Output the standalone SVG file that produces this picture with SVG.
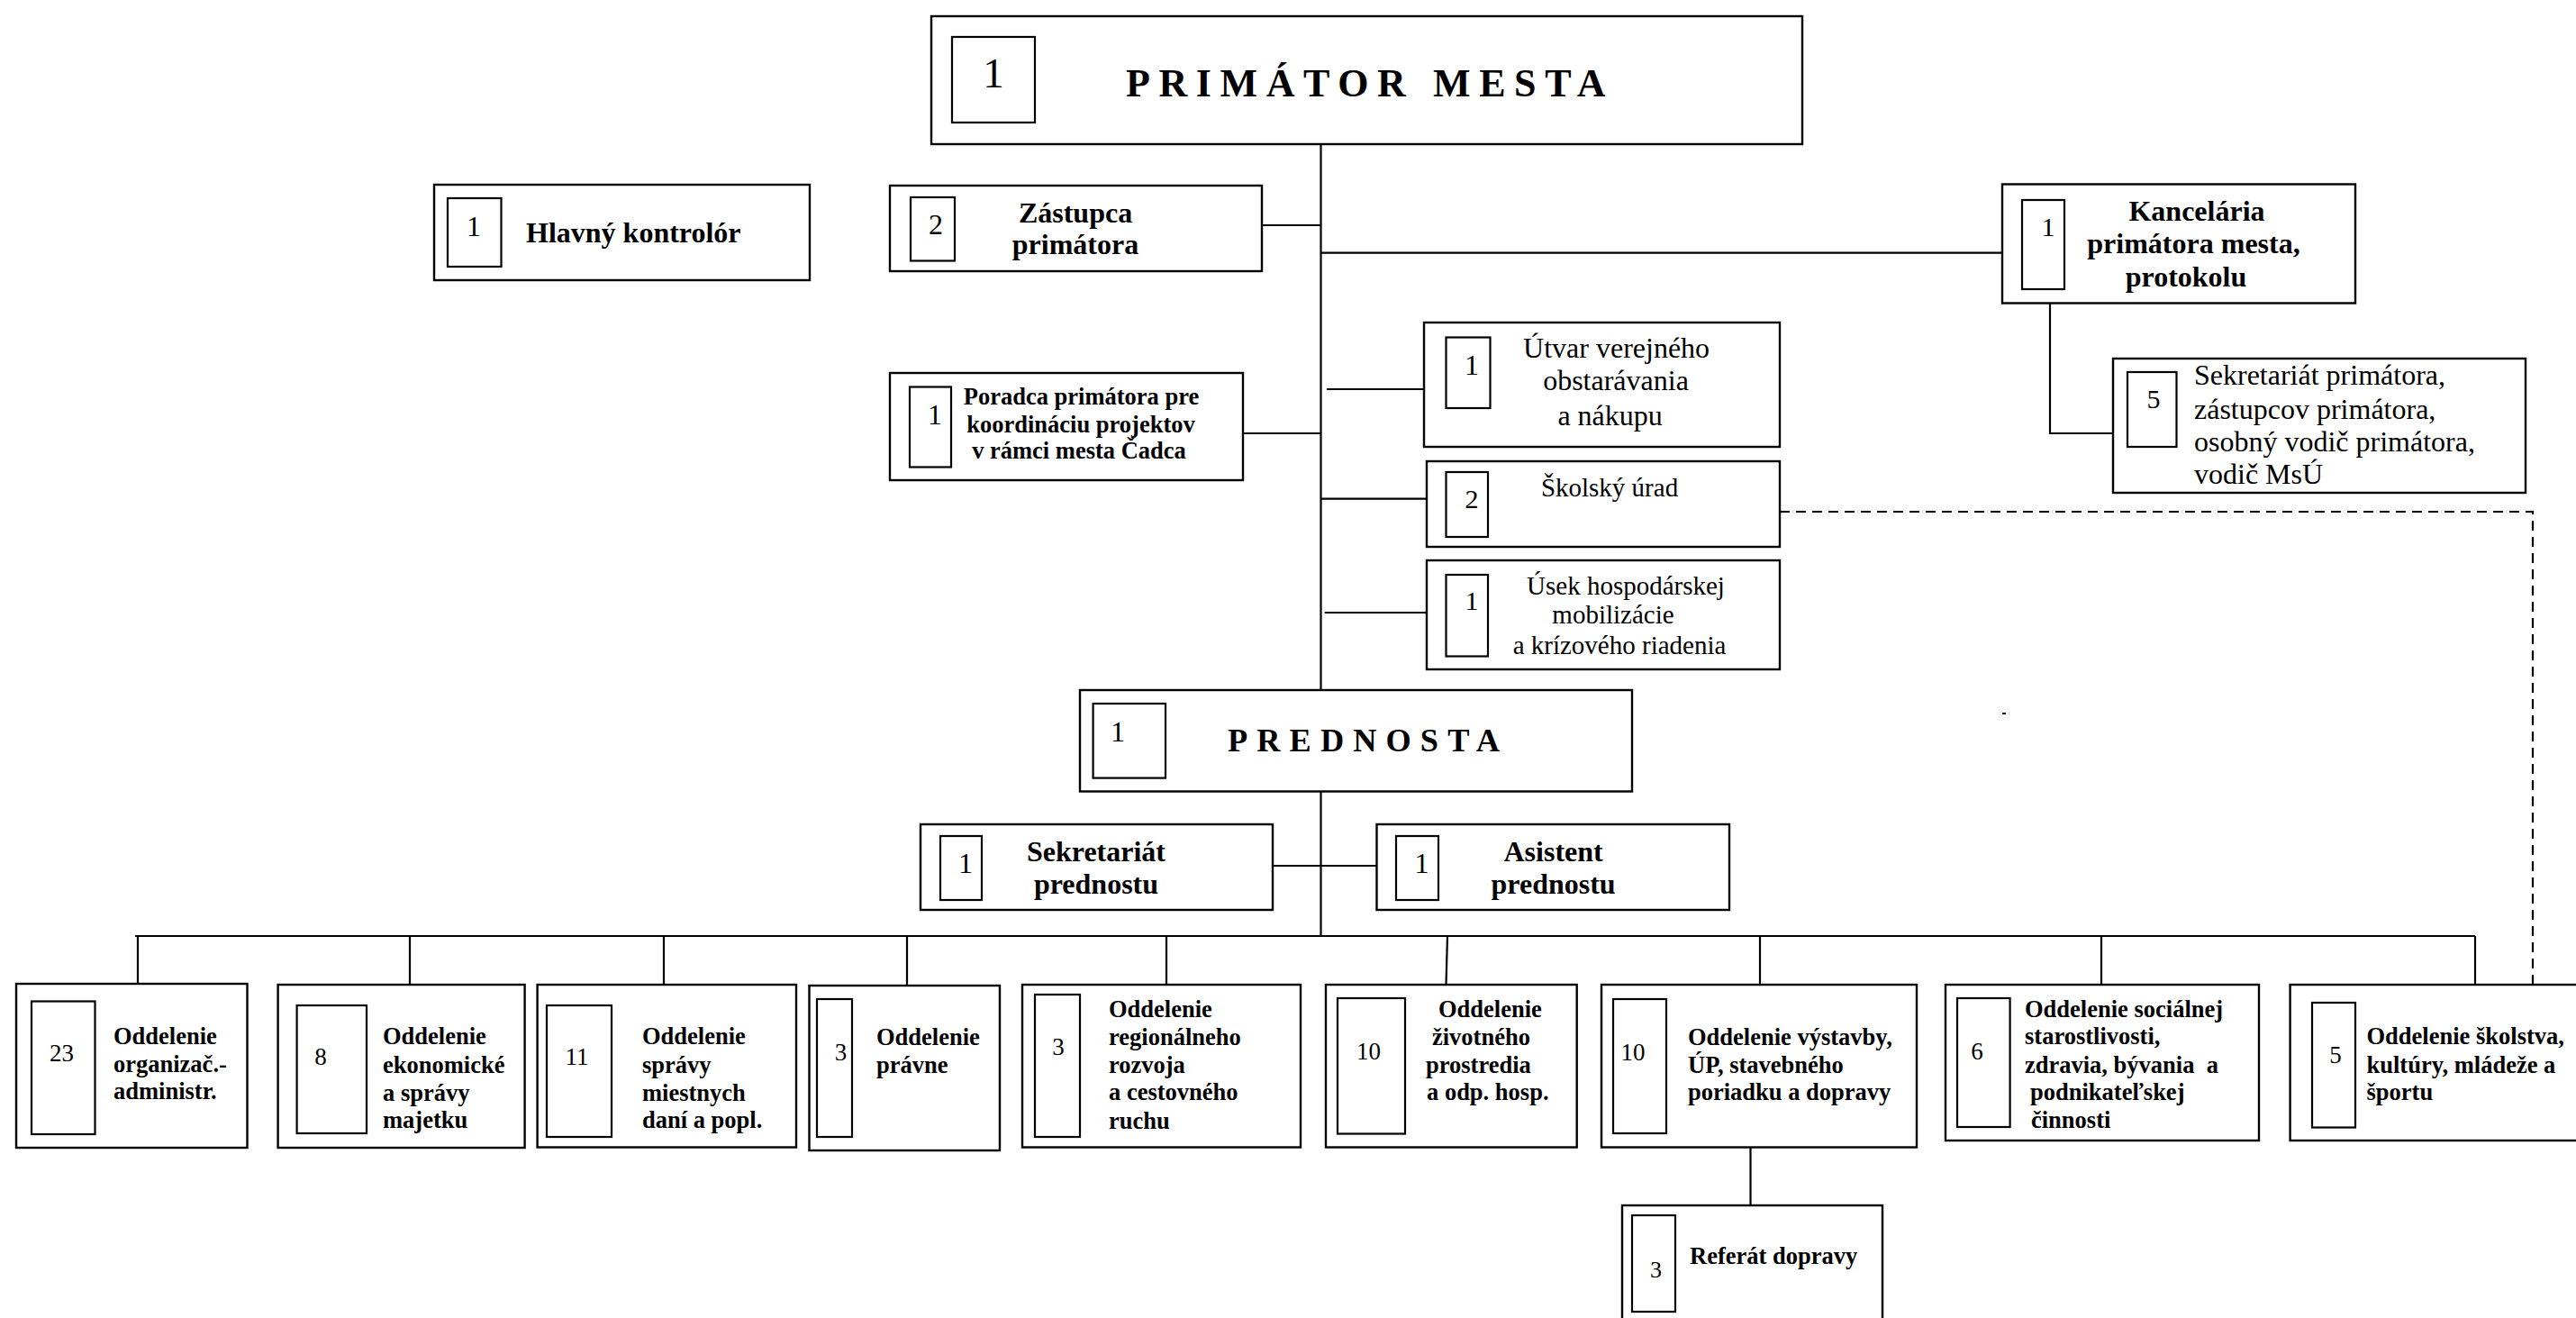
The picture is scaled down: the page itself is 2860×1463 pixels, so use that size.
<svg xmlns="http://www.w3.org/2000/svg" width="2860" height="1463" viewBox="0 0 2860 1463">
<style>
.bx{fill:#fff;stroke:#000;stroke-width:2.4}
.in{fill:#fff;stroke:#000;stroke-width:2.2}
.c{fill:none;stroke:#000;stroke-width:2.2}
.d{fill:none;stroke:#000;stroke-width:2.2;stroke-dasharray:11 7}
text{font-family:"Liberation Serif","Times New Roman",serif;fill:#000}
.n{font-size:32px;text-anchor:middle}
.ns{font-size:27px;text-anchor:middle}
.b{font-size:32px;font-weight:bold}
.bs{font-size:26.5px;font-weight:bold}
.r{font-size:32px}
.r29{font-size:29px}
.m{text-anchor:middle}
</style>
<rect width="2860" height="1463" fill="#fff"/>
<g id="connectors">
<path class="c" d="M1466.5,160V766M1466.5,878.5V1039"/>
<path class="c" d="M1401,250H1466.5M1466.5,280.6H2223M1380,481H1466.5M1473,432H1581M1466.5,553.7H1584M1470.6,680H1584"/>
<path class="c" d="M2276,336.6V481H2346"/>
<path class="c" d="M1413,961H1528.5"/>
<path class="c" d="M150,1039H2748"/>
<path class="c" d="M153,1039V1092M455,1039V1093M737,1039V1093M1007,1039V1094M1295,1039V1093M1607,1039L1605.5,1093M1954,1039V1093M2333,1039V1093M2748,1039V1093"/>
<path class="c" d="M1943.5,1273.5V1338"/>
<path class="d" d="M1976,568H2812V1093"/>
</g>
<g id="primator">
<rect class="bx" x="1034" y="18" width="967" height="142"/>
<rect class="in" x="1057" y="41" width="92" height="95"/>
<text x="1103" y="97" style="font-size:47px;text-anchor:middle">1</text>
<text x="1250" y="106.5" style="font-size:44px;font-weight:bold;letter-spacing:9.6px">PRIMÁTOR MESTA</text>
</g>
<g id="hlavny-kontrolor">
<rect class="bx" x="482" y="205" width="417" height="106"/>
<rect class="in" x="497" y="220" width="59.5" height="76"/>
<text class="n" x="526" y="262">1</text>
<text class="b" x="584" y="269">Hlavný kontrolór</text>
</g>
<g id="zastupca">
<rect class="bx" x="988" y="206" width="413" height="95"/>
<rect class="in" x="1011" y="219" width="49" height="70.5"/>
<text class="n" x="1039" y="260">2</text>
<text class="b m" x="1194" y="246.5">Zástupca</text>
<text class="b m" x="1194" y="282">primátora</text>
</g>
<g id="poradca">
<rect class="bx" x="988" y="414" width="392" height="119"/>
<rect class="in" x="1010" y="429.5" width="46" height="89"/>
<text class="n" x="1038" y="470.5">1</text>
<text class="bs m" x="1200.5" y="449">Poradca primátora pre</text>
<text class="bs m" x="1200" y="479.5">koordináciu projektov</text>
<text class="bs m" x="1198" y="509">v rámci mesta Čadca</text>
</g>
<g id="kancelaria">
<rect class="bx" x="2223" y="204.5" width="392" height="132"/>
<rect class="in" x="2245" y="222" width="47" height="99"/>
<text class="n" x="2274" y="262" style="font-size:30px">1</text>
<text class="b m" x="2439" y="245">Kancelária</text>
<text class="b m" x="2435.5" y="281">primátora mesta,</text>
<text class="b m" x="2427" y="317.5">protokolu</text>
</g>
<g id="sekretariat-primatora">
<rect class="bx" x="2346" y="398" width="458" height="149"/>
<rect class="in" x="2362" y="413" width="54.5" height="83"/>
<text class="n" x="2391" y="453" style="font-size:30px">5</text>
<text class="r" x="2436" y="427">Sekretariát primátora,</text>
<text class="r" x="2436" y="464.5">zástupcov primátora,</text>
<text class="r" x="2436" y="501">osobný vodič primátora,</text>
<text class="r" x="2436" y="537">vodič MsÚ</text>
</g>
<g id="utvar">
<rect class="bx" x="1581" y="358" width="395" height="138"/>
<rect class="in" x="1605.5" y="374.5" width="49" height="78.5"/>
<text class="n" x="1634" y="415.5">1</text>
<text class="r m" x="1794.6" y="397">Útvar verejného</text>
<text class="r m" x="1794" y="433">obstarávania</text>
<text class="r m" x="1787.6" y="471.5">a nákupu</text>
</g>
<g id="skolsky-urad">
<rect class="bx" x="1584" y="512" width="392" height="95"/>
<rect class="in" x="1605.5" y="524" width="46.5" height="72"/>
<text class="n" x="1634" y="564" style="font-size:30px">2</text>
<text class="r29 m" x="1787" y="551">Školský úrad</text>
</g>
<g id="usek">
<rect class="bx" x="1584" y="622" width="392" height="121"/>
<rect class="in" x="1605.5" y="638" width="46.5" height="90.5"/>
<text class="n" x="1634" y="677" style="font-size:30px">1</text>
<text class="r29 m" x="1805" y="660">Úsek hospodárskej</text>
<text class="r29 m" x="1791" y="692">mobilizácie</text>
<text class="r29 m" x="1798" y="726">a krízového riadenia</text>
</g>
<g id="prednosta">
<rect class="bx" x="1199" y="766" width="613" height="112.5"/>
<rect class="in" x="1213.6" y="781" width="80.4" height="82.6"/>
<text class="n" x="1241" y="822.5">1</text>
<text x="1363" y="833.7" style="font-size:36.3px;font-weight:bold;letter-spacing:10.1px">PREDNOSTA</text>
</g>
<g id="sekretariat-prednostu">
<rect class="bx" x="1022" y="915" width="391" height="95"/>
<rect class="in" x="1044" y="928" width="46" height="71"/>
<text class="n" x="1072" y="969">1</text>
<text class="b m" x="1217" y="956">Sekretariát</text>
<text class="b m" x="1217" y="991.5">prednostu</text>
</g>
<g id="asistent">
<rect class="bx" x="1528.5" y="915" width="391.5" height="95"/>
<rect class="in" x="1550" y="928" width="47" height="71"/>
<text class="n" x="1578.5" y="969">1</text>
<text class="b m" x="1724.6" y="956">Asistent</text>
<text class="b m" x="1724.6" y="991.5">prednostu</text>
</g>
<g id="odd-organizacne">
<rect class="bx" x="18" y="1092" width="256.5" height="182"/>
<rect class="in" x="35" y="1111.5" width="70.5" height="147.5"/>
<text class="ns" x="68.6" y="1178">23</text>
<text class="bs" x="126" y="1159">Oddelenie</text>
<text class="bs" x="126" y="1190">organizač.-</text>
<text class="bs" x="126" y="1220">administr.</text>
</g>
<g id="odd-ekonomicke">
<rect class="bx" x="308.6" y="1093" width="274" height="181"/>
<rect class="in" x="329.6" y="1116" width="77.4" height="142"/>
<text class="ns" x="356" y="1182">8</text>
<text class="bs" x="425" y="1159">Oddelenie</text>
<text class="bs" x="425" y="1191">ekonomické</text>
<text class="bs" x="425" y="1222">a správy</text>
<text class="bs" x="425" y="1251.5">majetku</text>
</g>
<g id="odd-dani">
<rect class="bx" x="596.6" y="1093" width="287.4" height="180.5"/>
<rect class="in" x="607" y="1116" width="72" height="146"/>
<text class="ns" x="640.5" y="1182">11</text>
<text class="bs" x="713" y="1159">Oddelenie</text>
<text class="bs" x="713" y="1191">správy</text>
<text class="bs" x="713" y="1222">miestnych</text>
<text class="bs" x="713" y="1252">daní a popl.</text>
</g>
<g id="odd-pravne">
<rect class="bx" x="898.5" y="1094" width="211.5" height="183"/>
<rect class="in" x="907" y="1109" width="39" height="153"/>
<text class="ns" x="933.5" y="1177">3</text>
<text class="bs" x="973" y="1159.6">Oddelenie</text>
<text class="bs" x="973" y="1191">právne</text>
</g>
<g id="odd-regionalne">
<rect class="bx" x="1135" y="1093" width="309" height="180.5"/>
<rect class="in" x="1149" y="1104" width="50" height="158"/>
<text class="ns" x="1175" y="1171">3</text>
<text class="bs" x="1231" y="1129">Oddelenie</text>
<text class="bs" x="1231" y="1159.6">regionálneho</text>
<text class="bs" x="1231" y="1191">rozvoja</text>
<text class="bs" x="1231" y="1221">a cestovného</text>
<text class="bs" x="1231" y="1252.5">ruchu</text>
</g>
<g id="odd-zivotne">
<rect class="bx" x="1472" y="1093" width="278.7" height="180.5"/>
<rect class="in" x="1485" y="1108" width="75" height="150.5"/>
<text class="ns" x="1519.6" y="1176">10</text>
<text class="bs" x="1597" y="1129">Oddelenie</text>
<text class="bs" x="1590" y="1159.6">životného</text>
<text class="bs" x="1583" y="1191">prostredia</text>
<text class="bs" x="1584" y="1221">a odp. hosp.</text>
</g>
<g id="odd-vystavby">
<rect class="bx" x="1778" y="1093" width="350" height="180.5"/>
<rect class="in" x="1791" y="1109" width="59" height="149"/>
<text class="ns" x="1813" y="1177">10</text>
<text class="bs" x="1874" y="1159.6">Oddelenie výstavby,</text>
<text class="bs" x="1874" y="1191">ÚP, stavebného</text>
<text class="bs" x="1874" y="1221">poriadku a dopravy</text>
</g>
<g id="referat-dopravy">
<rect class="bx" x="1801" y="1338" width="289" height="140"/>
<rect class="in" x="1812" y="1349" width="48" height="107"/>
<text class="ns" x="1838.6" y="1418" style="font-size:26px">3</text>
<text class="bs" x="1876" y="1403">Referát dopravy</text>
</g>
<g id="odd-socialne">
<rect class="bx" x="2160" y="1093" width="348" height="173"/>
<rect class="in" x="2173" y="1108" width="58.6" height="143"/>
<text class="ns" x="2195" y="1176">6</text>
<text class="bs" x="2248" y="1129">Oddelenie sociálnej</text>
<text class="bs" x="2248" y="1159">starostlivosti,</text>
<text class="bs" x="2248" y="1191" xml:space="preserve">zdravia, bývania  a</text>
<text class="bs" x="2254" y="1221">podnikateľskej</text>
<text class="bs" x="2255" y="1251.5">činnosti</text>
</g>
<g id="odd-skolstva">
<rect class="bx" x="2542.6" y="1093" width="330" height="173"/>
<rect class="in" x="2567" y="1113" width="48" height="138.5"/>
<text class="ns" x="2593" y="1180">5</text>
<text class="bs" x="2627.5" y="1159">Oddelenie školstva,</text>
<text class="bs" x="2627.5" y="1191">kultúry, mládeže a</text>
<text class="bs" x="2627.5" y="1221">športu</text>
</g>
<rect x="2223" y="791" width="4" height="2" fill="#000"/>
</svg>
